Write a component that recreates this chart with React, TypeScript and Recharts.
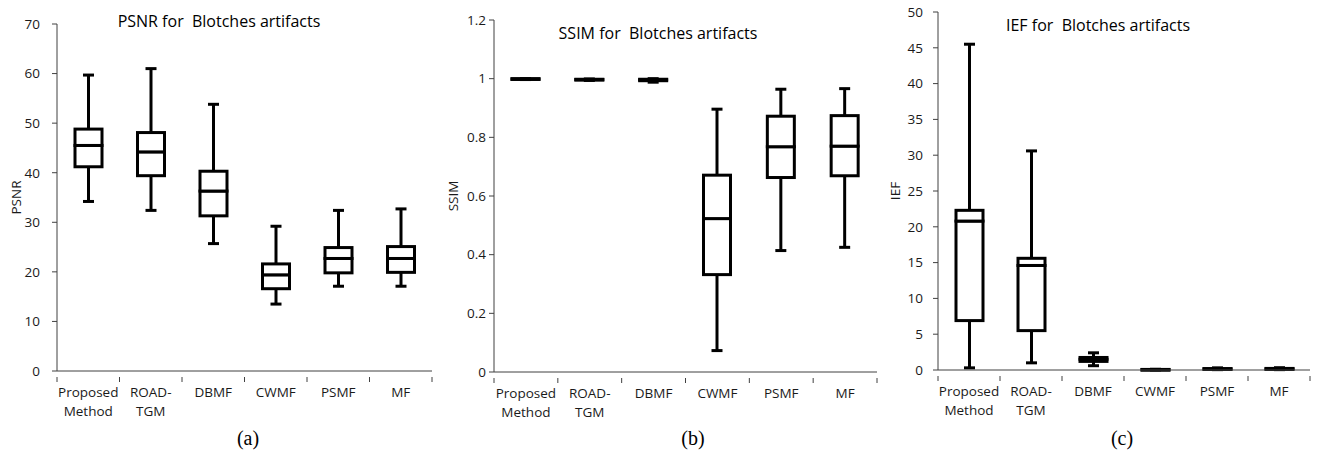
import React from "react";
import { ComposedChart, Bar, XAxis, YAxis } from "recharts";

// categories shared by all three panels ("\n" splits the tick label into lines)
const methods = ["Proposed\nMethod", "ROAD-\nTGM", "DBMF", "CWMF", "PSMF", "MF"];

// PSNR box stats
const psnrMin = [34.2, 32.4, 25.7, 13.5, 17.1, 17.1];
const psnrQ1 = [41.2, 39.4, 31.3, 16.6, 19.8, 19.9];
const psnrMed = [45.5, 44.2, 36.3, 19.4, 22.7, 22.7];
const psnrQ3 = [48.8, 48.1, 40.3, 21.6, 24.9, 25.1];
const psnrMax = [59.7, 61.0, 53.8, 29.2, 32.4, 32.7];
const psnrTicks = [0, 10, 20, 30, 40, 50, 60, 70];

// SSIM box stats
const ssimMin = [0.997, 0.994, 0.988, 0.073, 0.414, 0.425];
const ssimQ1 = [0.998, 0.996, 0.993, 0.332, 0.663, 0.669];
const ssimMed = [0.999, 0.997, 0.996, 0.523, 0.768, 0.77];
const ssimQ3 = [1.0, 0.998, 0.998, 0.671, 0.872, 0.874];
const ssimMax = [1.0, 0.999, 1.0, 0.896, 0.964, 0.966];
const ssimTicks = [0, 0.2, 0.4, 0.6, 0.8, 1, 1.2];

// IEF box stats
const iefMin = [0.3, 1.0, 0.6, 0.02, 0.05, 0.05];
const iefQ1 = [6.9, 5.5, 1.2, 0.04, 0.1, 0.1];
const iefMed = [20.8, 14.6, 1.5, 0.06, 0.15, 0.15];
const iefQ3 = [22.3, 15.6, 1.75, 0.08, 0.2, 0.22];
const iefMax = [45.5, 30.6, 2.4, 0.1, 0.3, 0.32];
const iefTicks = [0, 5, 10, 15, 20, 25, 30, 35, 40, 45, 50];

const FONT = "'Open Sans', Lato, sans-serif";
const AXIS = "#404040";
const TEXT = "#1a1a1a";
const BOX_W = 27;
const CAP_W = 11;

function buildRows(mn: number[], q1: number[], md: number[], q3: number[], mx: number[]) {
  return methods.map((name, i) => ({
    name,
    base: mn[i],
    lowWhisker: q1[i] - mn[i],
    lowBox: md[i] - q1[i],
    highBox: q3[i] - md[i],
    highWhisker: mx[i] - q3[i],
  }));
}

const Hidden = () => <g />;

const LowWhisker = (p: any) => {
  const cx = p.x + p.width / 2;
  const bottom = p.y + p.height;
  return (
    <g stroke="#000" strokeWidth={3}>
      <line x1={cx} x2={cx} y1={p.y} y2={bottom} />
      <line x1={cx - CAP_W / 2} x2={cx + CAP_W / 2} y1={bottom} y2={bottom} />
    </g>
  );
};

const HighWhisker = (p: any) => {
  const cx = p.x + p.width / 2;
  return (
    <g stroke="#000" strokeWidth={3}>
      <line x1={cx} x2={cx} y1={p.y} y2={p.y + p.height} />
      <line x1={cx - CAP_W / 2} x2={cx + CAP_W / 2} y1={p.y} y2={p.y} />
    </g>
  );
};

const BoxPart = (p: any) => (
  <rect x={p.x} y={p.y} width={p.width} height={Math.max(p.height, 0.5)} fill="#fff" stroke="#000" strokeWidth={3} />
);

// category label plus the little tick marks that sit between categories
const makeMethodTick = (band: number) => (p: any) => {
  const lines = String(p.payload.value).split("\n");
  const axisY = p.y - 10;
  const left = p.x - band / 2;
  const right = p.x + band / 2;
  return (
    <g>
      <line x1={left} x2={left} y1={axisY} y2={axisY + 5} stroke={AXIS} />
      {p.index === methods.length - 1 && <line x1={right} x2={right} y1={axisY} y2={axisY + 5} stroke={AXIS} />}
      <text x={p.x} y={p.y} textAnchor="middle" fill={TEXT} fontSize={13.5} fontFamily={FONT}>
        {lines.map((l, i) => (
          <tspan key={i} x={p.x} dy={i === 0 ? 10 : 19}>
            {l}
          </tspan>
        ))}
      </text>
    </g>
  );
};

interface PanelProps {
  rows: ReturnType<typeof buildRows>;
  ticks: number[];
  label: string;
  width: number;
  margin: { top: number; right: number; left: number; bottom: number };
  yWidth: number;
  tickMargin: number;
  labelOffset: number;
}

function BoxPanel({ rows, ticks, label, width, margin, yWidth, tickMargin, labelOffset }: PanelProps) {
  const band = (width - margin.left - margin.right - yWidth) / methods.length;
  return (
    <ComposedChart width={width} height={453} data={rows} margin={margin} barCategoryGap={0}>
      <XAxis
        dataKey="name"
        height={50}
        axisLine={{ stroke: AXIS }}
        tickLine={false}
        tickMargin={10}
        tick={makeMethodTick(band)}
        interval={0}
      />
      <YAxis
        domain={[ticks[0], ticks[ticks.length - 1]]}
        ticks={ticks}
        width={yWidth}
        tickSize={5}
        tickMargin={tickMargin}
        axisLine={{ stroke: AXIS }}
        tickLine={{ stroke: AXIS }}
        tick={{ fontSize: 13.5, fill: TEXT, fontFamily: FONT }}
        label={{
          value: label,
          angle: -90,
          position: "insideLeft",
          offset: labelOffset,
          style: { textAnchor: "middle", fontSize: 13.5, fill: TEXT, fontFamily: FONT },
        }}
      />
      <Bar dataKey="base" stackId="b" barSize={BOX_W} shape={Hidden} isAnimationActive={false} />
      <Bar dataKey="lowWhisker" stackId="b" barSize={BOX_W} shape={LowWhisker} isAnimationActive={false} />
      <Bar dataKey="lowBox" stackId="b" barSize={BOX_W} shape={BoxPart} isAnimationActive={false} />
      <Bar dataKey="highBox" stackId="b" barSize={BOX_W} shape={BoxPart} isAnimationActive={false} />
      <Bar dataKey="highWhisker" stackId="b" barSize={BOX_W} shape={HighWhisker} isAnimationActive={false} />
    </ComposedChart>
  );
}

const titleStyle: React.CSSProperties = {
  position: "absolute",
  fontFamily: FONT,
  fontSize: 16,
  color: "#000",
  whiteSpace: "pre",
  transform: "translate(-50%, -50%)",
};

const captionStyle: React.CSSProperties = {
  position: "absolute",
  fontFamily: "'Liberation Serif', serif",
  fontSize: 20,
  color: "#000",
  transform: "translate(-50%, -50%)",
};

export default function App() {
  return (
    <div style={{ position: "absolute", left: 0, top: 0, width: 1319, height: 453, background: "#fff", overflow: "hidden" }}>
      {/* (a) PSNR */}
      <div style={{ position: "absolute", left: 0, top: 0 }}>
        <BoxPanel
          rows={buildRows(psnrMin, psnrQ1, psnrMed, psnrQ3, psnrMax)}
          ticks={psnrTicks}
          label="PSNR"
          width={440}
          margin={{ top: 24, right: 8, left: 10, bottom: 32 }}
          yWidth={47}
          tickMargin={12}
          labelOffset={6}
        />
      </div>
      {/* (b) SSIM */}
      <div style={{ position: "absolute", left: 440, top: 0 }}>
        <BoxPanel
          rows={buildRows(ssimMin, ssimQ1, ssimMed, ssimQ3, ssimMax)}
          ticks={ssimTicks}
          label="SSIM"
          width={440}
          margin={{ top: 20, right: 3, left: 8, bottom: 31 }}
          yWidth={46}
          tickMargin={3}
          labelOffset={5}
        />
      </div>
      {/* (c) IEF */}
      <div style={{ position: "absolute", left: 880, top: 0 }}>
        <BoxPanel
          rows={buildRows(iefMin, iefQ1, iefMed, iefQ3, iefMax)}
          ticks={iefTicks}
          label="IEF"
          width={439}
          margin={{ top: 12, right: 9, left: 10, bottom: 33 }}
          yWidth={48}
          tickMargin={10}
          labelOffset={5}
        />
      </div>

      <div style={{ ...titleStyle, left: 219, top: 21 }}>PSNR for  Blotches artifacts</div>
      <div style={{ ...titleStyle, left: 658, top: 33 }}>SSIM for  Blotches artifacts</div>
      <div style={{ ...titleStyle, left: 1098, top: 25 }}>IEF for  Blotches artifacts</div>

      <div style={{ ...captionStyle, left: 248, top: 438 }}>(a)</div>
      <div style={{ ...captionStyle, left: 693, top: 438 }}>(b)</div>
      <div style={{ ...captionStyle, left: 1122, top: 438 }}>(c)</div>
    </div>
  );
}
